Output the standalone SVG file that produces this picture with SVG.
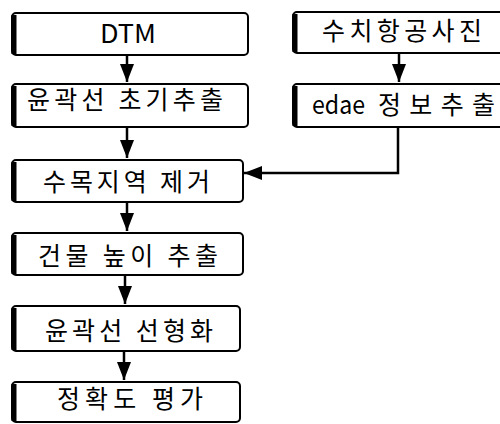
<svg xmlns="http://www.w3.org/2000/svg" width="500" height="424" viewBox="0 0 500 424">
<style>
.box{fill:#fff;stroke:#000;stroke-width:2}
.edge{stroke:#000;stroke-width:5;fill:none}
.t{font-family:"Noto Sans CJK KR","Noto Sans",sans-serif;font-size:25px;fill:#000}
.m{text-anchor:middle}
.c{stroke:#000;stroke-width:2.5;fill:none}
</style>
<defs>
<marker id="ah" markerUnits="userSpaceOnUse" markerWidth="18" markerHeight="14" refX="18" refY="7" orient="auto" viewBox="0 0 18 14">
<path d="M0,0 L18,7 L0,14 z" fill="#000"/>
</marker>
</defs>
<rect width="500" height="424" fill="#fff"/>
<g id="n1"><rect class="box" x="12" y="13" width="236" height="42" rx="4"/><path class="edge" d="M14,15 V54"/><text class="t m" x="128" y="43" textLength="56" lengthAdjust="spacingAndGlyphs">DTM</text></g>
<g id="n2"><rect class="box" x="12" y="84" width="236" height="43" rx="4"/><path class="edge" d="M14,86 V126"/><text class="t" x="27" y="109" textLength="196" lengthAdjust="spacing">윤곽선 초기추출</text></g>
<g id="n3"><rect class="box" x="12" y="160" width="231" height="42" rx="4"/><path class="edge" d="M14,162 V201"/><text class="t" x="43" y="191" textLength="167" lengthAdjust="spacing">수목지역 제거</text></g>
<g id="n4"><rect class="box" x="12" y="233" width="231" height="42" rx="4"/><path class="edge" d="M14,235 V274"/><text class="t" x="38" y="265" textLength="180" lengthAdjust="spacing">건물 높이 추출</text></g>
<g id="n5"><rect class="box" x="12" y="306" width="228" height="45" rx="4"/><path class="edge" d="M14,308 V350"/><text class="t" x="45" y="340" textLength="168" lengthAdjust="spacing">윤곽선 선형화</text></g>
<g id="n6"><rect class="box" x="12" y="382" width="228" height="40" rx="4"/><path class="edge" d="M14,384 V421"/><text class="t" x="57" y="408" textLength="146" lengthAdjust="spacing">정확도 평가</text></g>
<g id="r1"><rect class="box" x="293" y="12" width="220" height="41" rx="4"/><path class="edge" d="M295,14 V52"/><text class="t" x="322" y="40" textLength="160" lengthAdjust="spacing">수치항공사진</text></g>
<g id="r2"><rect class="box" x="293" y="84" width="220" height="43" rx="4"/><path class="edge" d="M295,86 V126"/><text class="t" x="312" y="114"><tspan textLength="53" lengthAdjust="spacingAndGlyphs">edae</tspan> <tspan x="378" textLength="117" lengthAdjust="spacing">정보추출</tspan></text></g>
<g id="connectors">
<path class="c" d="M127,55 V82" marker-end="url(#ah)"/>
<path class="c" d="M127,127 V158" marker-end="url(#ah)"/>
<path class="c" d="M127,202 V231" marker-end="url(#ah)"/>
<path class="c" d="M125,275 V304" marker-end="url(#ah)"/>
<path class="c" d="M124,351 V380" marker-end="url(#ah)"/>
<path class="c" d="M399,53 V82" marker-end="url(#ah)"/>
<path class="c" d="M398,127 V173 H244" marker-end="url(#ah)"/>
</g>
</svg>
